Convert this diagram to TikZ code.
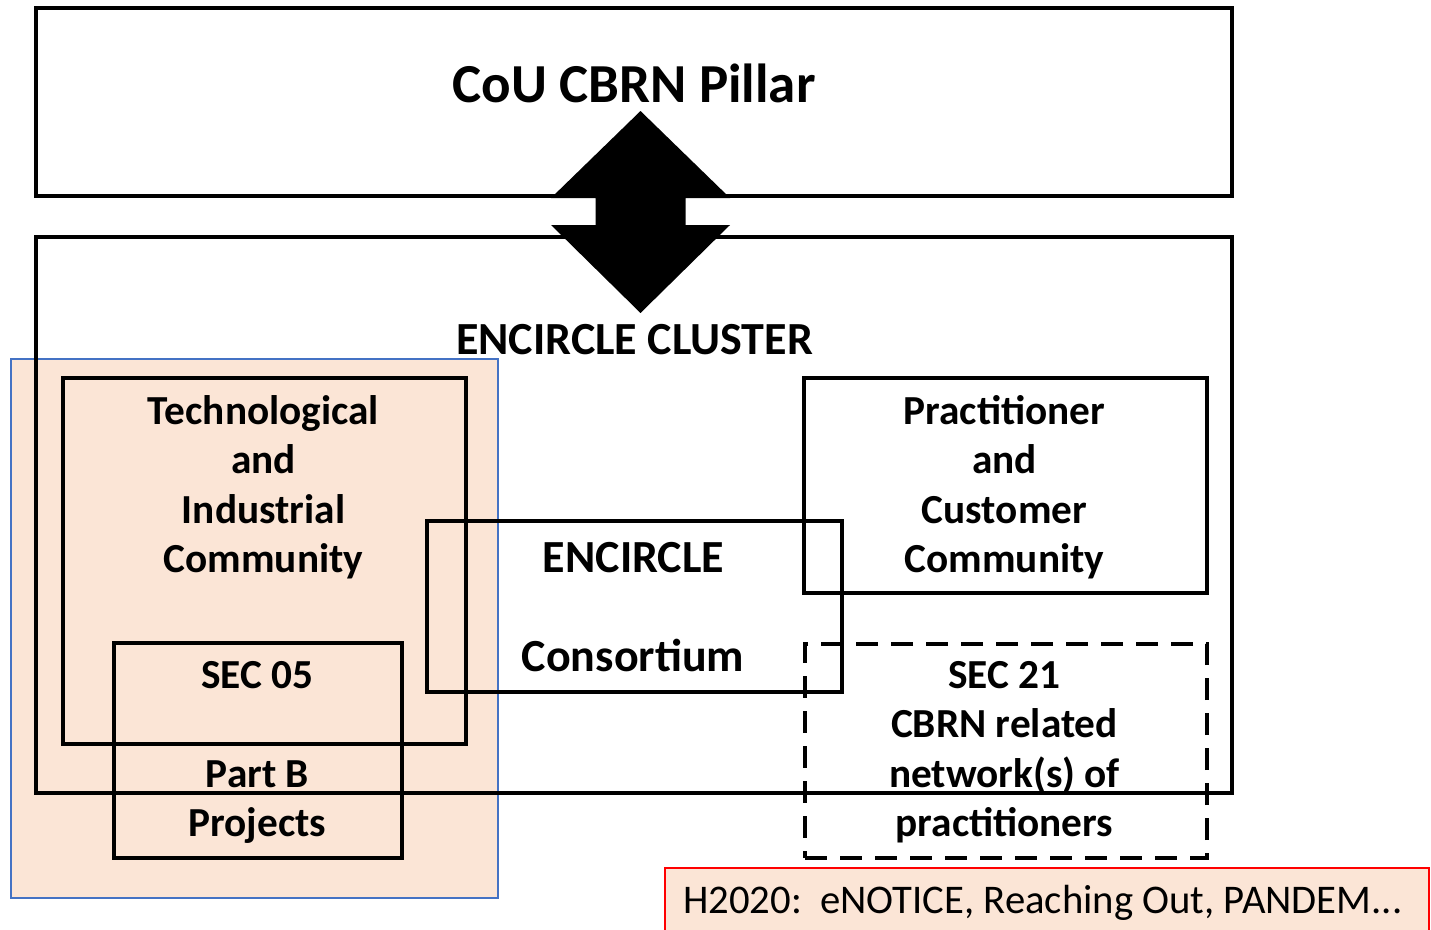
\documentclass[tikz,border=0pt]{standalone}
\usepackage{fontspec}
\setmainfont{Carlito}
\definecolor{peach}{RGB}{251,229,214}
\definecolor{bordblue}{RGB}{68,114,196}
\definecolor{bordred}{RGB}{255,0,0}
\begin{document}
\begin{tikzpicture}[x=1pt,y=-1pt,
  blk/.style={draw=black,line width=4pt,rectangle,inner sep=0pt,outer sep=0pt},
  dsh/.style={blk,dash pattern=on 22pt off 13pt},
  lbl/.style={font=\fontsize{41.3}{49.3}\selectfont\bfseries,align=center,inner sep=0pt,anchor=base},
  big/.style={font=\fontsize{46}{55}\selectfont\bfseries,inner sep=0pt,anchor=base},
]
\useasboundingbox (0,0) rectangle (1431,929);
% shaded region
\node[rectangle,fill=peach,draw=bordblue,line width=1.3pt,minimum width=487pt,minimum height=539pt,inner sep=0pt] (shade) at (254.5,628.5) {};
\node[rectangle,fill=peach,draw=bordred,line width=2pt,minimum width=764pt,minimum height=67pt,inner sep=0pt] (h2020) at (1047,901.5) {};
% boxes
\node[blk,minimum width=1196pt,minimum height=188pt] (pillar) at (634,102) {};
\node[blk,minimum width=1196pt,minimum height=556pt] (cluster) at (634,515) {};
\node[blk,minimum width=403pt,minimum height=366pt] (tech) at (264.5,561) {};
\node[blk,minimum width=288pt,minimum height=215pt] (sec05) at (258,750.5) {};
\node[blk,minimum width=415pt,minimum height=171pt] (cons) at (634.5,606.5) {};
\node[blk,minimum width=403pt,minimum height=215pt] (prac) at (1005.5,485.5) {};
\node[dsh,minimum width=402pt,minimum height=214pt] (sec21) at (1006,751) {};
% double arrow between pillar and cluster
\coordinate (tipT) at (640.5,111);
\coordinate (tipB) at (640.5,313);
\fill[black] (tipT) -- ++(89.5,87) -- ++(-44.5,0) -- ++(0,27) -- ++(44.5,0) -- (tipB)
  -- ++(-89.5,-88) -- ++(44.5,0) -- ++(0,-27) -- ++(-44.5,0) -- cycle;
% texts
\node[font=\fontsize{55}{66}\selectfont\bfseries,inner sep=0pt,anchor=base] (tpillar) at (634,102) {CoU CBRN Pillar};
\node[big] (tcluster) at (634.5,354) {ENCIRCLE CLUSTER};
\node[big] (tenc) at (633.5,572) {ENCIRCLE};
\node[big] (tcons) at (633,671) {Consortium};
\node[lbl] (ttech) at (263.5,572.5) {Technological\\and\\Industrial\\Community};
\node[lbl] (tprac) at (1004.5,572.5) {Practitioner\\and\\Customer\\Community};
\node[lbl] (tsec05) at (257.5,836.5) {SEC 05\\[49.3pt]Part B\\Projects};
\node[lbl] (tsec21) at (1004.5,836.5) {SEC 21\\CBRN related\\network(s) of\\practitioners};
\node[font=\fontsize{40.7}{48}\selectfont,inner sep=0pt,anchor=base west] (th2020) at (683,913) {H2020:\ \ eNOTICE, Reaching Out, PANDEM...};
\end{tikzpicture}
\end{document}
